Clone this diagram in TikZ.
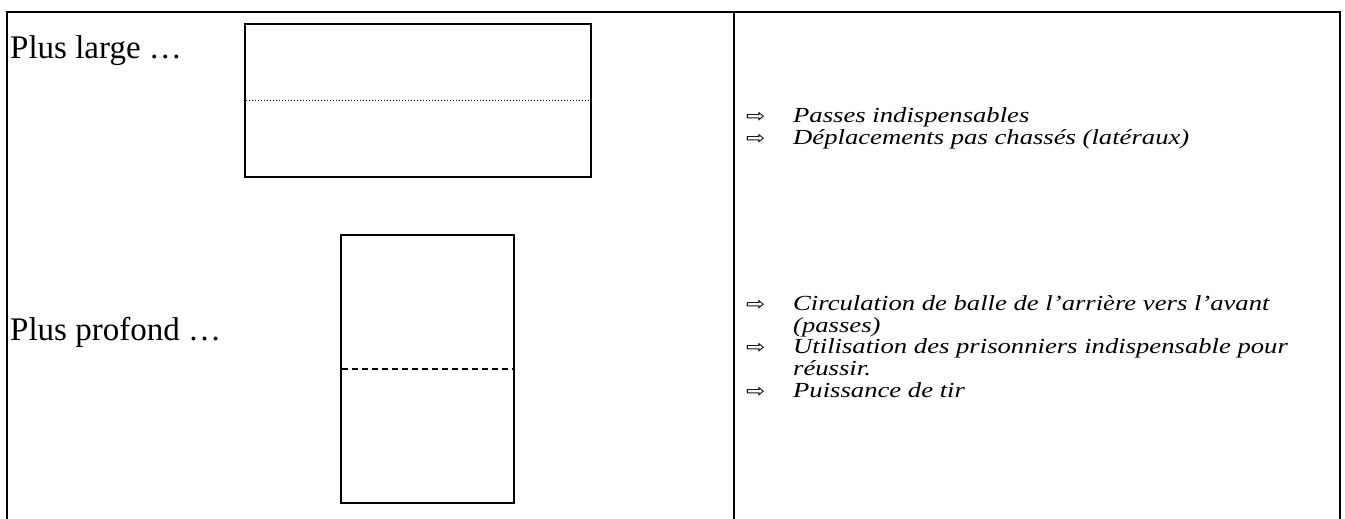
\documentclass[tikz,border=0pt]{standalone}
\usepackage{fontspec}
\usepackage{graphicx}
\setmainfont{Liberation Serif}
\newfontfamily\symfont{DejaVu Sans}
\newcommand{\wide}[1]{\scalebox{1.24}[1]{#1}}
\begin{document}
\begin{tikzpicture}[x=1pt,y=-1pt,
  frame/.style={line width=2pt},
  field/.style={line width=1.8pt},
  lefttext/.style={anchor=base west,inner sep=0pt,font=\fontsize{33}{35}\selectfont},
  arrowmark/.style={anchor=base west,inner sep=0pt,font=\symfont\fontsize{18.5}{20}\selectfont},
  itemtext/.style={anchor=base west,inner sep=0pt,font=\itshape\fontsize{21.5}{22}\selectfont}
]
\useasboundingbox (0,0) rectangle (1345,519);
% table frame
\coordinate (tl) at (7,12);
\coordinate (tr) at (1340,12);
\coordinate (bl) at (7,525);
\coordinate (br) at (1340,525);
\coordinate (dt) at (734,12);
\coordinate (db) at (734,525);
\draw[frame] (bl) -- (tl) -- (tr) -- (br);
\draw[frame] (dt) -- (db);
% wide field
\draw[field] (245,24) rectangle (591,177);
\draw[line width=1pt,dotted] (246,100.5) -- (590,100.5);
% deep field
\draw[field] (341,235) rectangle (514,503);
\draw[line width=1.6pt,dash pattern=on 6pt off 4pt] (342,369) -- (513,369);
% left labels
\node[lefttext] (l1) at (10,59) {Plus large \ldots};
\node[lefttext] (l2) at (10,340) {Plus profond \ldots};
% right items, upper
\node[arrowmark] (a1) at (746,122) {\wide{⇨}};
\node[itemtext] (t1) at (793,122) {\wide{Passes indispensables}};
\node[arrowmark] (a2) at (746,144) {\wide{⇨}};
\node[itemtext] (t2) at (793,144) {\wide{Déplacements pas chassés (latéraux)}};
% right items, lower
\node[arrowmark] (a3) at (746,310) {\wide{⇨}};
\node[itemtext] (t3) at (793,310) {\wide{Circulation de balle de l'arrière vers l'avant}};
\node[itemtext] (t3b) at (793,332) {\wide{(passes)}};
\node[arrowmark] (a4) at (746,353) {\wide{⇨}};
\node[itemtext] (t4) at (793,353) {\wide{Utilisation des prisonniers indispensable pour}};
\node[itemtext] (t4b) at (793,375) {\wide{réussir.}};
\node[arrowmark] (a5) at (746,397) {\wide{⇨}};
\node[itemtext] (t5) at (793,397) {\wide{Puissance de tir}};
\end{tikzpicture}
\end{document}
